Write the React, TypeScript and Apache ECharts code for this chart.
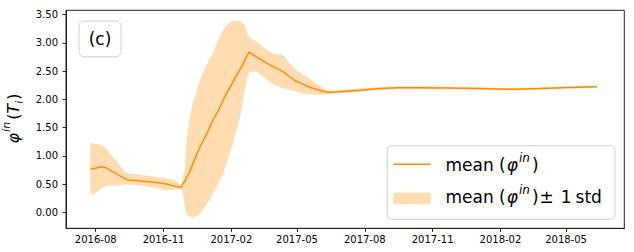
import { useEffect, useRef } from "react";
import * as echarts from "echarts";

// ---- data ----
const dates = [
  "2016-07-25", "2016-07-28", "2016-08-03", "2016-08-09", "2016-08-15", "2016-08-20",
  "2016-08-31", "2016-09-12", "2016-09-23", "2016-10-04", "2016-10-20", "2016-11-05",
  "2016-11-16", "2016-11-25", "2016-11-27", "2016-11-30", "2016-12-02", "2016-12-06",
  "2016-12-11", "2016-12-17", "2016-12-24", "2016-12-31", "2017-01-07", "2017-01-14",
  "2017-01-21", "2017-01-27", "2017-02-03", "2017-02-10", "2017-02-15", "2017-02-19",
  "2017-02-25", "2017-03-07", "2017-03-16", "2017-03-25", "2017-04-02", "2017-04-12",
  "2017-04-21", "2017-04-30", "2017-05-09", "2017-05-18", "2017-05-29", "2017-06-12",
  "2017-06-28", "2017-07-25", "2017-08-21", "2017-09-17", "2017-10-14", "2017-11-24",
  "2018-01-04", "2018-02-18", "2018-03-26", "2018-05-05", "2018-06-12",
];
const meanValues = [
  0.78, 0.767, 0.79, 0.81, 0.79, 0.75,
  0.67, 0.58, 0.565, 0.554, 0.535, 0.505,
  0.466, 0.443, 0.513, 0.55, 0.62, 0.7,
  0.868, 1.06, 1.25, 1.43, 1.635, 1.79,
  1.99, 2.14, 2.305, 2.47, 2.58, 2.69,
  2.834, 2.75, 2.68, 2.61, 2.56, 2.49,
  2.4, 2.32, 2.27, 2.214, 2.17, 2.125,
  2.135, 2.16, 2.19, 2.207, 2.207, 2.2,
  2.19, 2.178, 2.19, 2.21, 2.225,
];
const lowerValues = [
  0.336, 0.31, 0.37, 0.43, 0.46, 0.466,
  0.48, 0.496, 0.48, 0.466, 0.43, 0.395,
  0.4, 0.42, 0.35, 0.1, -0.02, -0.07,
  -0.09, -0.06, 0.04, 0.17, 0.336, 0.5,
  0.69, 0.93, 1.22, 1.55, 1.84, 2.15,
  2.47, 2.49, 2.4, 2.31, 2.25, 2.196,
  2.17, 2.14, 2.1, 2.09, 2.08, 2.09,
  2.11, 2.135, 2.165, 2.185, 2.185, 2.18,
  2.17, 2.16, 2.17, 2.19, 2.21,
];
const upperValues = [
  1.22, 1.22, 1.21, 1.19, 1.13, 1.045,
  0.88, 0.7, 0.68, 0.66, 0.635, 0.6,
  0.572, 0.48, 0.6, 0.81, 1.2, 1.635,
  1.93, 2.2, 2.46, 2.65, 2.82, 3.05,
  3.23, 3.33, 3.38, 3.39, 3.37, 3.32,
  3.11, 3.02, 2.93, 2.84, 2.8, 2.786,
  2.64, 2.52, 2.44, 2.37, 2.27, 2.15,
  2.16, 2.19, 2.215, 2.23, 2.23, 2.22,
  2.21, 2.2, 2.21, 2.23, 2.24,
];
const xTickLabels = ["2016-08", "2016-11", "2017-02", "2017-05", "2017-08", "2017-11", "2018-02", "2018-05"];
const yTickValues = [0, 0.5, 1, 1.5, 2, 2.5, 3, 3.5];

const DAY = 86400000;
function ts(s: string): number {
  const [y, m, d] = s.split("-").map(Number);
  return new Date(y, m - 1, d || 1).getTime();
}

export default function App() {
  const ref = useRef<HTMLDivElement>(null);
  useEffect(() => {
    if (!ref.current) return;
    const chart = echarts.init(ref.current, null, { renderer: "svg" });
    const ORANGE = "#ff8c00";
    const BAND = "rgba(255,140,0,0.3)";
    const FONT = "'DejaVu Sans', sans-serif";
    const xs = dates.map(ts);
    const xTicks = xTickLabels.map(ts);
    const anchor = ts("2016-08-01");

    const titleBase = { fontSize: 16, fontFamily: FONT, color: "#000", lineHeight: 24 };
    const titleRich = {
      it: { ...titleBase, fontStyle: "italic" },
      sup: { fontSize: 11, fontStyle: "italic", fontFamily: FONT, color: "#000", lineHeight: 12, verticalAlign: "top", padding: [0, 2, 0, 1] },
      sub: { fontSize: 11, fontStyle: "italic", fontFamily: FONT, color: "#000", lineHeight: 12, verticalAlign: "bottom", padding: [0, 1, 0, 0] },
      n: { ...titleBase },
    };
    const legBase = { fontSize: 17, fontFamily: FONT, color: "#000", lineHeight: 26 };
    const legRich = {
      phi: { ...legBase, fontStyle: "italic", padding: [0, 0, 0, 1] },
      sup: { fontSize: 12, fontStyle: "italic", fontFamily: FONT, color: "#000", lineHeight: 13, verticalAlign: "top", padding: [0, 2, 0, 1] },
      n: { ...legBase },
      pm: { ...legBase, padding: [0, 0, 0, 1] },
      one: { ...legBase, padding: [0, 0, 0, 7] },
      std: { ...legBase, padding: [0, 0, 0, 4] },
    };

    const option: any = {
      animation: false,
      grid: {
        left: 66, right: 9.7, top: 10.3, bottom: 23.7,
        show: true, borderColor: "#222", borderWidth: 1, backgroundColor: "transparent",
      },
      xAxis: {
        type: "value",
        min: anchor - 40.3 * DAY,
        max: anchor + 717 * DAY,
        axisLine: { show: true, onZero: false, lineStyle: { color: "#222", width: 1 } },
        axisTick: { show: true, length: 3.5, lineStyle: { color: "#222" }, customValues: xTicks },
        axisLabel: {
          customValues: xTicks,
          fontSize: 10, fontFamily: FONT, color: "#000", margin: 6,
          formatter: (v: number) => {
            const d = new Date(v);
            return `${d.getFullYear()}-${String(d.getMonth() + 1).padStart(2, "0")}`;
          },
        },
        splitLine: { show: false },
      },
      yAxis: {
        type: "value",
        min: -0.28,
        max: 3.575,
        axisLine: { show: true, onZero: false, lineStyle: { color: "#222", width: 1 } },
        axisTick: { show: true, length: 3.5, lineStyle: { color: "#222" }, customValues: yTickValues },
        axisLabel: {
          customValues: yTickValues,
          fontSize: 10, fontFamily: FONT, color: "#000", margin: 8,
          formatter: (v: number) => v.toFixed(2),
        },
        splitLine: { show: false },
      },
      series: [
        {
          name: "mean ± 1 std",
          type: "custom",
          data: xs.map((t, i) => [t, lowerValues[i], upperValues[i]]),
          encode: { x: 0, y: [1, 2] },
          silent: true,
          z: 1,
          renderItem: (params: any, api: any) => {
            if (params.dataIndex !== 0) return null;
            const pts: number[][] = [];
            for (let i = 0; i < xs.length; i++) pts.push(api.coord([xs[i], upperValues[i]]));
            for (let i = xs.length - 1; i >= 0; i--) pts.push(api.coord([xs[i], lowerValues[i]]));
            return {
              type: "polygon",
              shape: { points: pts, smooth: 0.25 },
              style: { fill: BAND, stroke: "none" },
            };
          },
        },
        {
          name: "mean",
          type: "line",
          data: xs.map((t, i) => [t, meanValues[i]]),
          symbol: "none",
          lineStyle: { color: ORANGE, width: 1.5 },
          silent: true,
          z: 3,
        },
      ],
      graphic: [
        {
          type: "text",
          x: 13,
          y: 118.5,
          rotation: Math.PI / 2,
          style: {
            text: "{it|φ}{sup|in}{n|(}{it|T}{sub|i}{n|)}",
            rich: titleRich,
            align: "center",
            verticalAlign: "middle",
          },
          z: 10,
        },
        {
          type: "rect",
          shape: { x: 79, y: 21, width: 42, height: 35.7, r: 5 },
          style: { fill: "#fff", stroke: "#d0d0d0", lineWidth: 1 },
          z: 10,
        },
        {
          type: "text",
          x: 100,
          y: 39,
          style: { text: "(c)", fontSize: 17, fontFamily: FONT, fill: "#000", align: "center", verticalAlign: "middle" },
          z: 11,
        },
        {
          type: "rect",
          shape: { x: 387.3, y: 145.7, width: 227.7, height: 73.6, r: 4 },
          style: { fill: "#fff", stroke: "#d0d0d0", lineWidth: 1 },
          z: 10,
        },
        {
          type: "line",
          shape: { x1: 393.3, y1: 164.3, x2: 430.7, y2: 164.3 },
          style: { stroke: ORANGE, lineWidth: 1.5 },
          z: 11,
        },
        {
          type: "rect",
          shape: { x: 393.3, y: 192.7, width: 37.4, height: 11.6 },
          style: { fill: BAND },
          z: 11,
        },
        {
          type: "text",
          x: 445.5,
          y: 164.5,
          style: {
            text: "{n|mean (}{phi|φ}{sup|in}{n|)}",
            rich: legRich,
            align: "left",
            verticalAlign: "middle",
          },
          z: 11,
        },
        {
          type: "text",
          x: 445.5,
          y: 196.5,
          style: {
            text: "{n|mean (}{phi|φ}{sup|in}{n|)}{pm|±}{one|1}{std|std}",
            rich: legRich,
            align: "left",
            verticalAlign: "middle",
          },
          z: 11,
        },
      ],
    };
    chart.setOption(option);
    return () => chart.dispose();
  }, []);
  return (
    <div
      ref={ref}
      style={{ position: "absolute", left: 0, top: 0, width: 634, height: 252, background: "#fff" }}
    />
  );
}
